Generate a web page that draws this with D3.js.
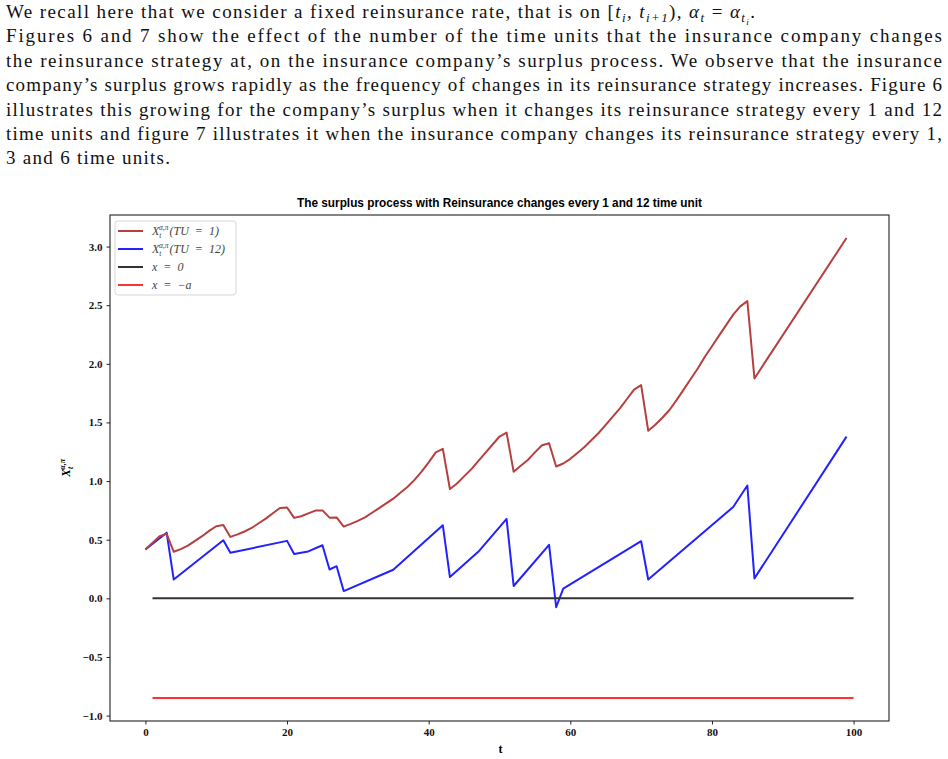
<!DOCTYPE html>
<html>
<head>
<meta charset="utf-8">
<script src="https://cdn.jsdelivr.net/npm/d3@7"></script>
<style>
  body { margin: 0; background: #fff; }
  svg { display: block; }
  .tick text { font-family: "Liberation Serif", serif; font-weight: bold; font-size: 11px; fill: #111; }
</style>
</head>
<body>
<svg id="chart" width="948" height="759"></svg>
<script>
// surplus, strategy changed every time unit (TU = 1)
const tu1Times = [0, 2, 3, 4, 5, 6, 7, 8, 9, 10, 11, 12, 13, 14, 15, 16, 17, 18, 19, 20, 21, 22,
  23, 24, 25, 26, 27, 28, 29, 30, 31, 32, 33, 34, 35, 36, 37, 38, 39, 40, 41, 42, 43, 44, 45, 46,
  47, 48, 49, 50, 51, 52, 53, 54, 55, 56, 57, 58, 59, 60, 61, 62, 63, 64, 65, 66, 67, 68, 69, 70,
  71, 72, 73, 74, 75, 76, 77, 78, 79, 80, 81, 82, 83, 84, 85, 86, 99];
const tu1Values = [0.416, 0.53, 0.55, 0.397, 0.42, 0.45, 0.49, 0.53, 0.575, 0.615, 0.625, 0.524,
  0.545, 0.57, 0.6, 0.64, 0.68, 0.725, 0.77, 0.775, 0.686, 0.7, 0.725, 0.748, 0.75, 0.688, 0.69,
  0.612, 0.635, 0.66, 0.69, 0.73, 0.77, 0.81, 0.85, 0.9, 0.95, 1.01, 1.08, 1.16, 1.245, 1.275,
  0.932, 0.98, 1.04, 1.1, 1.17, 1.24, 1.31, 1.38, 1.413, 1.079, 1.13, 1.18, 1.245, 1.306, 1.323,
  1.124, 1.15, 1.19, 1.24, 1.29, 1.35, 1.41, 1.48, 1.55, 1.62, 1.7, 1.78, 1.818, 1.43, 1.48,
  1.54, 1.606, 1.69, 1.78, 1.87, 1.96, 2.06, 2.15, 2.24, 2.33, 2.42, 2.49, 2.535, 1.875, 3.073];

// surplus, strategy changed every 12 time units (TU = 12)
const tu12Times = [0, 3, 4, 11, 12, 20, 21, 23, 25, 26, 27, 28, 35, 42, 43, 47, 51, 52, 57, 58,
  59, 70, 71, 83, 85, 86, 99];
const tu12Values = [0.416, 0.56, 0.16, 0.495, 0.388, 0.49, 0.378, 0.4, 0.453, 0.246, 0.274, 0.062,
  0.244, 0.623, 0.181, 0.397, 0.677, 0.105, 0.456, -0.076, 0.082, 0.487, 0.161, 0.779, 0.962,
  0.17, 1.379];

// horizontal reference levels x = 0 and x = -a
const levelTimes = [1, 100];
const zeroLevel = 0;
const ruinLevel = -0.85;

const xTicks = [0, 20, 40, 60, 80, 100];
const yTicks = [-1, -0.5, 0, 0.5, 1, 1.5, 2, 2.5, 3];

// first line with inline math: [text, kind] where kind is 'n' normal, 'i' italic, 's' subscript, 'ss' sub-sub
const introFirst = [
  ['We recall here that we consider a fixed reinsurance rate, that is on [', 'n'],
  ['t', 'i'], ['i', 's'], [', ', 'n'], ['t', 'i'], ['i+1', 's'], ['), ', 'n'],
  ['α', 'i'], ['t', 's'], [' = ', 'n'], ['α', 'i'], ['t', 's'], ['i', 'ss'], ['.', 'n'],
];
const introLines = [
  'Figures  6 and  7 show the effect of the number of the time units that the insurance company changes',
  'the reinsurance strategy at, on the insurance company’s surplus process.  We observe that the insurance',
  'company’s surplus grows rapidly as the frequency of changes in its reinsurance strategy increases. Figure  6',
  'illustrates this growing for the company’s surplus when it changes its reinsurance strategy every 1 and 12',
  'time units and figure  7 illustrates it when the insurance company changes its reinsurance strategy every 1,',
];
const introLast = '3 and 6 time units.';

const colors = { tu1: '#b5403f', tu12: '#2222ff', zero: '#333333', ruin: '#ff3333' };

const svg = d3.select('#chart');
const plot = { left: 110, right: 889, top: 215, bottom: 721 };

// ---- intro paragraph ----
const intro = svg.append('g')
  .attr('font-family', 'Liberation Serif, DejaVu Serif, serif')
  .attr('font-size', 19)
  .attr('fill', '#111')
  .style('white-space', 'pre');
const baseline = (i) => 18 + i * 24.4;

const shiftOf = { n: 0, i: 0, s: 4, ss: 7 };
const sizeOf = { n: 19, i: 19, s: 13, ss: 9 };
const first = intro.append('text')
  .attr('x', 6)
  .attr('y', baseline(0))
  .attr('textLength', 749)
  .attr('lengthAdjust', 'spacing');
let prevShift = 0;
introFirst.forEach(([txt, kind]) => {
  const shift = shiftOf[kind];
  first.append('tspan')
    .attr('dy', shift - prevShift)
    .attr('font-size', sizeOf[kind])
    .attr('font-style', kind === 'n' ? 'normal' : 'italic')
    .text(txt);
  prevShift = shift;
});

intro.selectAll('text.j')
  .data(introLines)
  .join('text')
  .attr('class', 'j')
  .attr('x', 6)
  .attr('y', (d, i) => baseline(i + 1))
  .attr('textLength', 936)
  .attr('lengthAdjust', 'spacing')
  .text((d) => d);

intro.append('text')
  .attr('x', 6)
  .attr('y', baseline(6))
  .attr('textLength', 164)
  .attr('lengthAdjust', 'spacing')
  .text(introLast);

// ---- chart ----
const toPoints = (ts, vs) => ts.map((t, i) => ({ t, v: vs[i] }));
const series = [
  { key: 'tu1', points: toPoints(tu1Times, tu1Values) },
  { key: 'tu12', points: toPoints(tu12Times, tu12Values) },
  { key: 'zero', points: levelTimes.map((t) => ({ t, v: zeroLevel })) },
  { key: 'ruin', points: levelTimes.map((t) => ({ t, v: ruinLevel })) },
];

// matplotlib-like 5% margins around the data
const pad = (ext) => {
  const m = (ext[1] - ext[0]) * 0.05;
  return [ext[0] - m, ext[1] + m];
};
const allPoints = series.flatMap((s) => s.points);
const x = d3.scaleLinear()
  .domain(pad([0, d3.max(allPoints, (d) => d.t)]))
  .range([plot.left, plot.right]);
const y = d3.scaleLinear()
  .domain(pad(d3.extent(allPoints, (d) => d.v)))
  .range([plot.bottom, plot.top]);

const line = d3.line().x((d) => x(d.t)).y((d) => y(d.v));

const drawOrder = ['tu12', 'tu1', 'zero', 'ruin'];
svg.append('g')
  .selectAll('path')
  .data(drawOrder.map((k) => series.find((s) => s.key === k)))
  .join('path')
  .attr('d', (d) => line(d.points))
  .attr('fill', 'none')
  .attr('stroke', (d) => colors[d.key])
  .attr('stroke-width', 2)
  .attr('stroke-linejoin', 'round');

// axes
const xAxis = svg.append('g')
  .attr('transform', `translate(0,${plot.bottom})`)
  .call(d3.axisBottom(x).tickValues(xTicks).tickFormat(d3.format('d')).tickSize(3.5).tickPadding(4));
const yAxis = svg.append('g')
  .attr('transform', `translate(${plot.left},0)`)
  .call(d3.axisLeft(y).tickValues(yTicks).tickFormat(d3.format('.1f')).tickSize(3.5).tickPadding(4));
[xAxis, yAxis].forEach((g) => {
  g.select('.domain').remove();
  g.selectAll('.tick line').attr('stroke', '#222');
});

// frame
svg.append('rect')
  .attr('x', plot.left)
  .attr('y', plot.top)
  .attr('width', plot.right - plot.left)
  .attr('height', plot.bottom - plot.top)
  .attr('fill', 'none')
  .attr('stroke', '#222')
  .attr('stroke-width', 1.1);

// title
svg.append('text')
  .attr('x', (plot.left + plot.right) / 2)
  .attr('y', 207)
  .attr('text-anchor', 'middle')
  .attr('font-family', 'Liberation Sans, sans-serif')
  .attr('font-size', 13)
  .attr('font-weight', 600)
  .attr('textLength', 405)
  .attr('lengthAdjust', 'spacingAndGlyphs')
  .attr('fill', '#000')
  .text('The surplus process with Reinsurance changes every 1 and 12 time unit');

// axis labels
svg.append('text')
  .attr('x', (plot.left + plot.right) / 2 + 1)
  .attr('y', 753)
  .attr('text-anchor', 'middle')
  .attr('font-family', 'Liberation Serif, serif')
  .attr('font-size', 12)
  .attr('font-weight', 'bold')
  .text('t');

const yLabel = svg.append('text')
  .attr('transform', 'translate(70,468) rotate(-90)')
  .attr('text-anchor', 'middle')
  .attr('font-family', 'Liberation Serif, serif')
  .attr('font-size', 12)
  .attr('font-weight', 'bold')
  .attr('font-style', 'italic');
yLabel.append('tspan').text('X');
yLabel.append('tspan').attr('font-size', 8).attr('dy', 3).text('t');
yLabel.append('tspan').attr('font-size', 8).attr('dx', -3).attr('dy', -8).text('α,π');

// legend
const legendItems = [
  { key: 'tu1', label: '(TU = 1)', math: true },
  { key: 'tu12', label: '(TU = 12)', math: true },
  { key: 'zero', label: 'x = 0', math: false },
  { key: 'ruin', label: 'x = −a', math: false },
];
const legend = svg.append('g');
legend.append('rect')
  .attr('x', 115)
  .attr('y', 221)
  .attr('width', 121)
  .attr('height', 74)
  .attr('rx', 3)
  .attr('fill', '#fff')
  .attr('fill-opacity', 0.8)
  .attr('stroke', '#d6d6d6');

const rows = legend.selectAll('g.row')
  .data(legendItems)
  .join('g')
  .attr('class', 'row')
  .attr('transform', (d, i) => `translate(0,${231 + i * 18})`);
rows.append('line')
  .attr('x1', 118)
  .attr('x2', 143)
  .attr('stroke', (d) => colors[d.key])
  .attr('stroke-width', 2);
const rowText = rows.append('text')
  .attr('x', 152)
  .attr('y', 4)
  .attr('font-family', 'Liberation Serif, serif')
  .attr('font-size', 12)
  .attr('font-style', 'italic')
  .attr('fill', '#444')
  .style('white-space', 'pre');
rowText.each(function (d) {
  const t = d3.select(this);
  if (d.math) {
    t.append('tspan').text('X');
    t.append('tspan').attr('font-size', 7.5).attr('dy', 2.5).text('t');
    t.append('tspan').attr('font-size', 7.5).attr('dx', -2.5).attr('dy', -8).text('α,π');
    t.append('tspan').attr('dy', 5.5).attr('dx', 1).text(d.label.replace('=', ' = '));
  } else {
    t.text(d.label.replace('=', ' = '));
  }
});
</script>
</body>
</html>
